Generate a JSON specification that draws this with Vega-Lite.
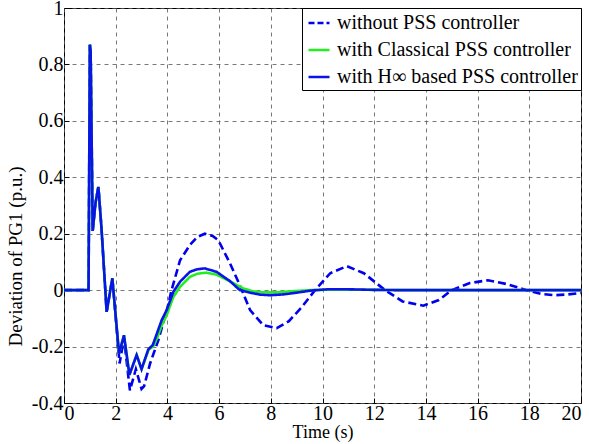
{
  "$schema": "https://vega.github.io/schema/vega-lite/v6.json",
  "width": 517,
  "height": 395,
  "autosize": "none",
  "padding": {"left": 64, "top": 8, "right": 8, "bottom": 41},
  "background": "white",
  "config": {
    "view": {"stroke": "black", "strokeWidth": 1}
  },
  "datasets": {
    "pts": [
      {"s": "A", "t": 0, "y": 0}, {"s": "A", "t": 0.95, "y": 0}, {"s": "A", "t": 1.0, "y": 0.87}, {"s": "A", "t": 1.03, "y": 0.85},
      {"s": "A", "t": 1.11, "y": 0.21}, {"s": "A", "t": 1.22, "y": 0.31}, {"s": "A", "t": 1.33, "y": 0.366}, {"s": "A", "t": 1.45, "y": 0.22},
      {"s": "A", "t": 1.65, "y": -0.077}, {"s": "A", "t": 1.87, "y": 0.042}, {"s": "A", "t": 2.15, "y": -0.26}, {"s": "A", "t": 2.32, "y": -0.17},
      {"s": "A", "t": 2.55, "y": -0.355}, {"s": "A", "t": 2.78, "y": -0.28}, {"s": "A", "t": 3.0, "y": -0.35}, {"s": "A", "t": 3.1, "y": -0.34},
      {"s": "A", "t": 3.33, "y": -0.26}, {"s": "A", "t": 3.65, "y": -0.177}, {"s": "A", "t": 4.0, "y": -0.064}, {"s": "A", "t": 4.16, "y": 0},
      {"s": "A", "t": 4.49, "y": 0.106}, {"s": "A", "t": 4.87, "y": 0.16}, {"s": "A", "t": 5.15, "y": 0.188}, {"s": "A", "t": 5.45, "y": 0.2},
      {"s": "A", "t": 5.75, "y": 0.192}, {"s": "A", "t": 5.97, "y": 0.177}, {"s": "A", "t": 6.42, "y": 0.095}, {"s": "A", "t": 6.8, "y": 0.018},
      {"s": "A", "t": 7.2, "y": -0.071}, {"s": "A", "t": 7.71, "y": -0.124}, {"s": "A", "t": 8.23, "y": -0.135}, {"s": "A", "t": 8.7, "y": -0.11},
      {"s": "A", "t": 9.2, "y": -0.06}, {"s": "A", "t": 9.71, "y": 0}, {"s": "A", "t": 10.3, "y": 0.06}, {"s": "A", "t": 10.94, "y": 0.085},
      {"s": "A", "t": 11.6, "y": 0.06}, {"s": "A", "t": 12.42, "y": 0}, {"s": "A", "t": 13.1, "y": -0.04}, {"s": "A", "t": 13.9, "y": -0.055},
      {"s": "A", "t": 14.5, "y": -0.035}, {"s": "A", "t": 15.0, "y": 0}, {"s": "A", "t": 15.7, "y": 0.025}, {"s": "A", "t": 16.4, "y": 0.035},
      {"s": "A", "t": 17.1, "y": 0.022}, {"s": "A", "t": 17.9, "y": 0}, {"s": "A", "t": 18.5, "y": -0.014}, {"s": "A", "t": 19.0, "y": -0.018},
      {"s": "A", "t": 19.5, "y": -0.015}, {"s": "A", "t": 20, "y": -0.01},

      {"s": "B", "t": 0, "y": 0}, {"s": "B", "t": 0.95, "y": 0}, {"s": "B", "t": 1.0, "y": 0.87}, {"s": "B", "t": 1.03, "y": 0.85},
      {"s": "B", "t": 1.11, "y": 0.21}, {"s": "B", "t": 1.22, "y": 0.31}, {"s": "B", "t": 1.33, "y": 0.366}, {"s": "B", "t": 1.45, "y": 0.22},
      {"s": "B", "t": 1.65, "y": -0.077}, {"s": "B", "t": 1.87, "y": 0.042}, {"s": "B", "t": 2.13, "y": -0.225}, {"s": "B", "t": 2.32, "y": -0.16},
      {"s": "B", "t": 2.53, "y": -0.3}, {"s": "B", "t": 2.81, "y": -0.23}, {"s": "B", "t": 3.0, "y": -0.28}, {"s": "B", "t": 3.28, "y": -0.21},
      {"s": "B", "t": 3.45, "y": -0.2}, {"s": "B", "t": 3.6, "y": -0.17}, {"s": "B", "t": 3.78, "y": -0.125}, {"s": "B", "t": 3.97, "y": -0.089},
      {"s": "B", "t": 4.23, "y": -0.024}, {"s": "B", "t": 4.49, "y": 0.012}, {"s": "B", "t": 4.87, "y": 0.047}, {"s": "B", "t": 5.15, "y": 0.058},
      {"s": "B", "t": 5.5, "y": 0.062}, {"s": "B", "t": 5.9, "y": 0.055}, {"s": "B", "t": 6.42, "y": 0.031}, {"s": "B", "t": 6.94, "y": 0.006},
      {"s": "B", "t": 7.3, "y": -0.004}, {"s": "B", "t": 7.7, "y": -0.008}, {"s": "B", "t": 8.2, "y": -0.008}, {"s": "B", "t": 8.8, "y": -0.004},
      {"s": "B", "t": 9.5, "y": 0}, {"s": "B", "t": 10.5, "y": 0.002}, {"s": "B", "t": 12, "y": 0.001}, {"s": "B", "t": 13, "y": 0},
      {"s": "B", "t": 20, "y": 0},

      {"s": "C", "t": 0, "y": 0}, {"s": "C", "t": 0.95, "y": 0}, {"s": "C", "t": 1.0, "y": 0.87}, {"s": "C", "t": 1.03, "y": 0.85},
      {"s": "C", "t": 1.11, "y": 0.21}, {"s": "C", "t": 1.22, "y": 0.31}, {"s": "C", "t": 1.33, "y": 0.366}, {"s": "C", "t": 1.45, "y": 0.22},
      {"s": "C", "t": 1.65, "y": -0.077}, {"s": "C", "t": 1.87, "y": 0.042}, {"s": "C", "t": 2.13, "y": -0.225}, {"s": "C", "t": 2.32, "y": -0.16},
      {"s": "C", "t": 2.53, "y": -0.3}, {"s": "C", "t": 2.81, "y": -0.23}, {"s": "C", "t": 3.0, "y": -0.28}, {"s": "C", "t": 3.26, "y": -0.21},
      {"s": "C", "t": 3.43, "y": -0.195}, {"s": "C", "t": 3.55, "y": -0.165}, {"s": "C", "t": 3.78, "y": -0.106}, {"s": "C", "t": 3.97, "y": -0.071},
      {"s": "C", "t": 4.23, "y": -0.006}, {"s": "C", "t": 4.49, "y": 0.03}, {"s": "C", "t": 4.87, "y": 0.065}, {"s": "C", "t": 5.15, "y": 0.074},
      {"s": "C", "t": 5.45, "y": 0.077}, {"s": "C", "t": 5.9, "y": 0.065}, {"s": "C", "t": 6.42, "y": 0.032}, {"s": "C", "t": 6.8, "y": 0.0},
      {"s": "C", "t": 7.2, "y": -0.009}, {"s": "C", "t": 7.6, "y": -0.016}, {"s": "C", "t": 7.97, "y": -0.018}, {"s": "C", "t": 8.5, "y": -0.015},
      {"s": "C", "t": 9.0, "y": -0.009}, {"s": "C", "t": 9.6, "y": -0.001}, {"s": "C", "t": 10.2, "y": 0.003}, {"s": "C", "t": 11, "y": 0.003},
      {"s": "C", "t": 12, "y": 0.001}, {"s": "C", "t": 13, "y": 0}, {"s": "C", "t": 20, "y": 0}
    ],
    "names": [
      {"s": "A", "name": "without PSS controller"},
      {"s": "B", "name": "with Classical PSS controller"},
      {"s": "C", "name": "with H∞ based PSS controller"}
    ]
  },
  "data": {"name": "pts"},
  "transform": [
    {"lookup": "s", "from": {"data": {"name": "names"}, "key": "s", "fields": ["name"]}}
  ],
  "mark": {"type": "line", "strokeWidth": 2.6, "clip": true},
  "encoding": {
    "x": {
      "field": "t", "type": "quantitative",
      "scale": {"domain": [0, 20], "nice": false},
      "axis": {
        "title": "Time (s)", "values": [0, 2, 4, 6, 8, 10, 12, 14, 16, 18, 20],
        "grid": true, "gridDash": [4, 4], "gridColor": "#555555", "gridWidth": 0.8, "gridOpacity": 1,
        "domain": false, "tickSize": -5, "tickColor": "black", "labelPadding": 5,
        "labelFont": "Times New Roman", "labelFontSize": 20, "labelColor": "black",
        "titleFont": "Times New Roman", "titleFontSize": 18, "titleFontWeight": "normal", "titleColor": "black", "titlePadding": 0,
        "labelOverlap": false
      }
    },
    "y": {
      "field": "y", "type": "quantitative",
      "scale": {"domain": [-0.4, 1], "nice": false},
      "axis": {
        "title": "Deviation of  PG1  (p.u.)", "values": [-0.4, -0.2, 0, 0.2, 0.4, 0.6, 0.8, 1],
        "format": ".1~f",
        "labelExpr": "replace(datum.label, '−', '-')",
        "grid": true, "gridDash": [4, 4], "gridColor": "#555555", "gridWidth": 0.8, "gridOpacity": 1,
        "domain": false, "tickSize": -5, "tickColor": "black", "labelPadding": 6,
        "labelFont": "Times New Roman", "labelFontSize": 20, "labelColor": "black",
        "titleFont": "Times New Roman", "titleFontSize": 19, "titleFontWeight": "normal", "titleColor": "black", "titlePadding": 6,
        "titleY": 248,
        "labelOverlap": false, "labelFlush": false
      }
    },
    "color": {
      "field": "name", "type": "nominal",
      "sort": ["without PSS controller", "with Classical PSS controller", "with H∞ based PSS controller"],
      "scale": {"range": ["#0000ee", "#22ee22", "#0a14e6"]},
      "legend": {
        "title": null, "orient": "top-right", "offset": 0,
        "fillColor": "white", "strokeColor": "black", "padding": 3,
        "symbolType": "stroke", "symbolSize": 441, "symbolStrokeWidth": 2.6,
        "labelFont": "Times New Roman", "labelFontSize": 20, "labelColor": "black", "labelLimit": 400,
        "rowPadding": 5, "symbolOffset": 2, "labelOffset": 6,
        "encode": {"symbols": {"update": {"strokeDash": {"signal": "datum.label == 'without PSS controller' ? [6, 3] : [1, 0]"}}}}
      }
    },
    "strokeDash": {
      "field": "name", "type": "nominal",
      "sort": ["without PSS controller", "with Classical PSS controller", "with H∞ based PSS controller"],
      "scale": {"range": [[8, 4], [1, 0], [1, 0]]},
      "legend": null
    }
  }
}
